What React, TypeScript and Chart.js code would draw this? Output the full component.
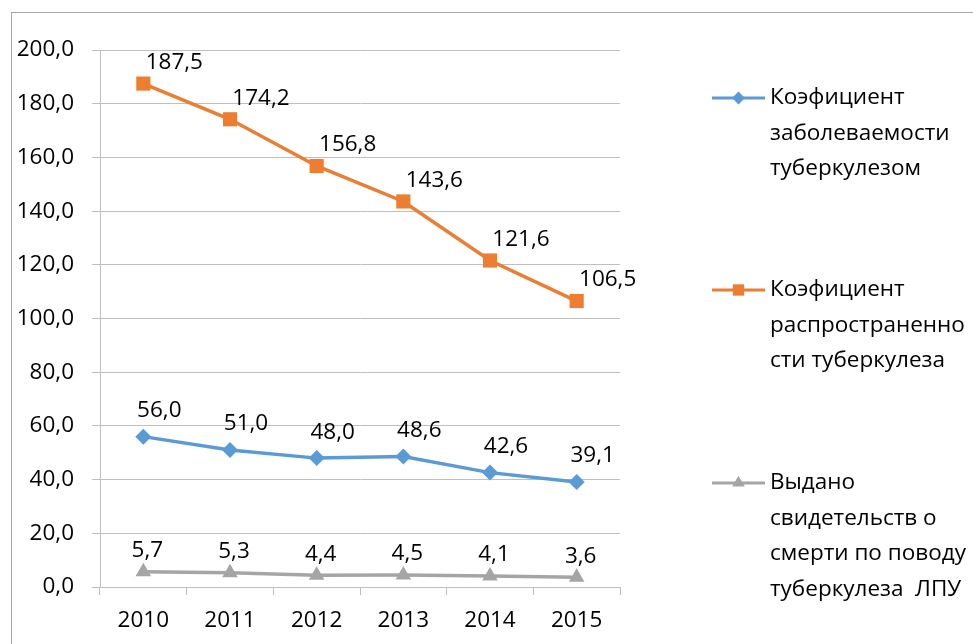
import { useEffect, useRef } from 'react';
import { Chart, registerables } from 'chart.js';

Chart.register(...registerables);

const years = ['2010', '2011', '2012', '2013', '2014', '2015'];
const incidence = [56.0, 51.0, 48.0, 48.6, 42.6, 39.1];
const prevalence = [187.5, 174.2, 156.8, 143.6, 121.6, 106.5];
const deathCertificates = [5.7, 5.3, 4.4, 4.5, 4.1, 3.6];
const seriesNames = [
  ['Коэфициент', 'заболеваемости', 'туберкулезом'],
  ['Коэфициент', 'распространенно', 'сти туберкулеза'],
  ['Выдано', 'свидетельств о', 'смерти по поводу', 'туберкулеза  ЛПУ'],
];

const FONT = '"Open Sans", "Noto Sans", sans-serif';
const FS = 22.5;
const fmt = (v: number) => v.toFixed(1).replace('.', ',');

export default function App() {
  const ref = useRef<HTMLCanvasElement | null>(null);

  useEffect(() => {
    if (!ref.current) return;
    const colors = ['#5B9BD5', '#ED7D31', '#A5A5A5'];
    const styles = ['rectRot', 'rect', 'triangle'];
    const radii = [8, 10, 9];
    const labelShift = [
      { dx: 16, dy: -26 },
      { dx: 31, dy: -21 },
      { dx: 4, dy: -21 },
    ];

    function drawMarker(ctx: any, style: string, x: number, y: number, r: number, c: string) {
      ctx.fillStyle = c;
      ctx.beginPath();
      if (style === 'rectRot') {
        ctx.moveTo(x, y - r);
        ctx.lineTo(x + r, y);
        ctx.lineTo(x, y + r);
        ctx.lineTo(x - r, y);
      } else if (style === 'rect') {
        const s = r * Math.SQRT1_2;
        ctx.rect(x - s, y - s, 2 * s, 2 * s);
      } else {
        ctx.moveTo(x, y - r);
        ctx.lineTo(x + r * 0.87, y + r * 0.5);
        ctx.lineTo(x - r * 0.87, y + r * 0.5);
      }
      ctx.closePath();
      ctx.fill();
    }

    const frame = {
      id: 'frame',
      beforeDraw(chart: any) {
        const ctx = chart.ctx;
        ctx.save();
        ctx.fillStyle = '#ffffff';
        ctx.fillRect(0, 0, chart.width, chart.height);
        ctx.strokeStyle = '#a6a6a6';
        ctx.lineWidth = 1;
        ctx.strokeRect(11.5, 12.5, 3000, 3000);
        ctx.restore();
      },
    };

    const labels = {
      id: 'valueLabels',
      afterDatasetsDraw(chart: any) {
        const ctx = chart.ctx;
        ctx.save();
        ctx.font = `${FS}px ${FONT}`;
        ctx.fillStyle = '#000000';
        ctx.textAlign = 'center';
        ctx.textBaseline = 'middle';
        chart.data.datasets.forEach((ds: any, i: number) => {
          const meta = chart.getDatasetMeta(i);
          meta.data.forEach((pt: any, j: number) => {
            ctx.fillText(fmt(ds.data[j]), pt.x + labelShift[i].dx, pt.y + labelShift[i].dy);
          });
        });
        ctx.restore();
      },
    };

    const legend = {
      id: 'sideLegend',
      afterDraw(chart: any) {
        const ctx = chart.ctx;
        const right = chart.chartArea.right;
        const tops = [98, 290, 483];
        const lineH = 35.5;
        ctx.save();
        chart.data.datasets.forEach((ds: any, i: number) => {
          const y = tops[i];
          const x0 = right + 92;
          const x1 = right + 145;
          ctx.strokeStyle = colors[i];
          ctx.lineWidth = 3;
          ctx.beginPath();
          ctx.moveTo(x0, y);
          ctx.lineTo(x1, y);
          ctx.stroke();
          drawMarker(ctx, styles[i], (x0 + x1) / 2, y, radii[i] * 0.8, colors[i]);
          ctx.fillStyle = '#000000';
          ctx.font = `${FS}px ${FONT}`;
          ctx.textAlign = 'left';
          ctx.textBaseline = 'middle';
          seriesNames[i].forEach((t, k) => ctx.fillText(t, right + 150, y + k * lineH));
        });
        ctx.restore();
      },
    };

    const names = seriesNames.map((n) => n.join(' '));
    const chart = new Chart(ref.current, {
      type: 'line',
      data: {
        labels: years,
        datasets: [incidence, prevalence, deathCertificates].map((d, i) => ({
          label: names[i],
          data: d,
          borderColor: colors[i],
          backgroundColor: colors[i],
          borderWidth: 3.5,
          pointStyle: styles[i] as any,
          pointRadius: radii[i],
          pointBorderWidth: 0,
          pointBackgroundColor: colors[i],
          tension: 0,
        })),
      },
      options: {
        animation: false,
        responsive: true,
        maintainAspectRatio: false,
        layout: { padding: { top: 50, right: 353, bottom: 0, left: 0 } },
        plugins: { legend: { display: false }, tooltip: { enabled: false } },
        scales: {
          x: {
            offset: true,
            grid: {
              offset: true,
              drawOnChartArea: false,
              drawTicks: true,
              tickLength: 8,
              color: '#bfbfbf',
            },
            border: { display: true, color: '#bfbfbf' },
            ticks: { color: '#000', font: { family: FONT, size: FS }, padding: 12, maxRotation: 0 },
            afterFit(scale: any) {
              scale.height = 57;
            },
          },
          y: {
            min: 0,
            max: 200,
            grid: { color: '#bfbfbf', tickLength: 8, drawTicks: true },
            border: { display: true, color: '#bfbfbf' },
            ticks: {
              stepSize: 20,
              color: '#000',
              padding: 18,
              font: { family: FONT, size: FS },
              callback: (v: any) => fmt(Number(v)),
            },
            afterFit(scale: any) {
              scale.width = 100;
            },
          },
        },
      },
      plugins: [frame, labels, legend],
    });
    return () => chart.destroy();
  }, []);

  return (
    <div style={{ position: 'fixed', left: 0, top: 0, width: 973, height: 644, background: '#fff' }}>
      <canvas ref={ref} />
    </div>
  );
}
